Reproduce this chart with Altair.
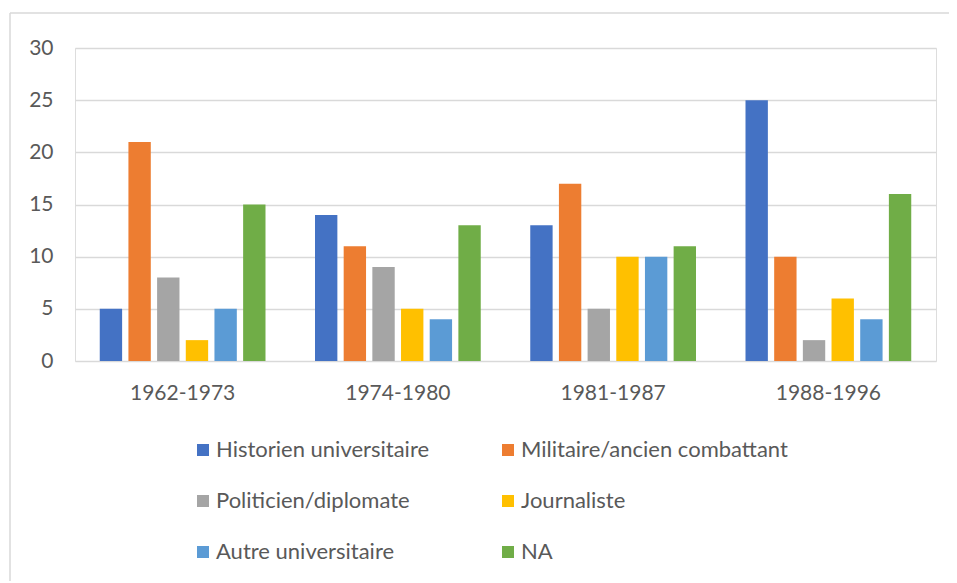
import altair as alt
import pandas as pd

periods = ["1962-1973", "1974-1980", "1981-1987", "1988-1996"]
series = ["Historien universitaire", "Militaire/ancien combattant", "Politicien/diplomate",
          "Journaliste", "Autre universitaire", "NA"]
colors = ["#4472C4", "#ED7D31", "#A5A5A5", "#FFC000", "#5B9BD5", "#70AD47"]
historien = [5, 14, 13, 25]
militaire = [21, 11, 17, 10]
politicien = [8, 9, 5, 2]
journaliste = [2, 5, 10, 6]
autre = [5, 4, 10, 4]
na = [15, 13, 11, 16]

values = [historien, militaire, politicien, journaliste, autre, na]
rows = []
for s, vals in zip(series, values):
    for p, v in zip(periods, vals):
        rows.append({"period": p, "series": s, "value": v})
df = pd.DataFrame(rows)

W, H = 861, 313
FONT = "Lato"

bars = alt.Chart(df).mark_bar().encode(
    x=alt.X("period:N", sort=periods, title=None,
            scale=alt.Scale(paddingInner=0.23, paddingOuter=0.115),
            axis=alt.Axis(labelAngle=0, ticks=False, domain=False, labelPadding=21,
                          labelFontSize=21, labelColor="#595959", labelFont=FONT)),
    xOffset=alt.XOffset("series:N", sort=series,
                        scale=alt.Scale(paddingInner=0.22, paddingOuter=0)),
    y=alt.Y("value:Q", title=None,
            scale=alt.Scale(domain=[0, 30], nice=False),
            axis=alt.Axis(values=[0, 5, 10, 15, 20, 25, 30], ticks=False, domain=False,
                          labelPadding=22, labelFontSize=21, labelColor="#595959",
                          labelFont=FONT, gridColor="#d9d9d9", gridWidth=1.5)),
    color=alt.Color("series:N", sort=series,
                    scale=alt.Scale(domain=series, range=colors),
                    legend=alt.Legend(title=None, orient="none", legendX=117, legendY=391,
                                      direction="horizontal",
                                      columns=2, columnPadding=67, rowPadding=29,
                                      symbolType="square", symbolSize=144,
                                      symbolStrokeWidth=0, labelOffset=2,
                                      labelFontSize=22, labelColor="#595959",
                                      labelFont=FONT, labelLimit=400, padding=0)),
)

one = pd.DataFrame({"a": [0]})
top_edge = alt.Chart(one).mark_rule(color="#d9d9d9", strokeWidth=1.5).encode(
    x=alt.value(-65), x2=alt.value(1000), y=alt.value(-35))
left_edge = alt.Chart(one).mark_rule(color="#d9d9d9", strokeWidth=1.5).encode(
    x=alt.value(-65), y=alt.value(-35), y2=alt.value(600))

chart = alt.layer(top_edge, left_edge, bars).properties(
    width=W, height=H,
    autosize=alt.AutoSizeParams(type="none"),
    padding={"left": 67, "top": 40, "right": 13, "bottom": 220},
).configure_view(stroke=None).configure(background="white")

chart.save("out.html", embed_options={"renderer": "svg", "actions": False})
